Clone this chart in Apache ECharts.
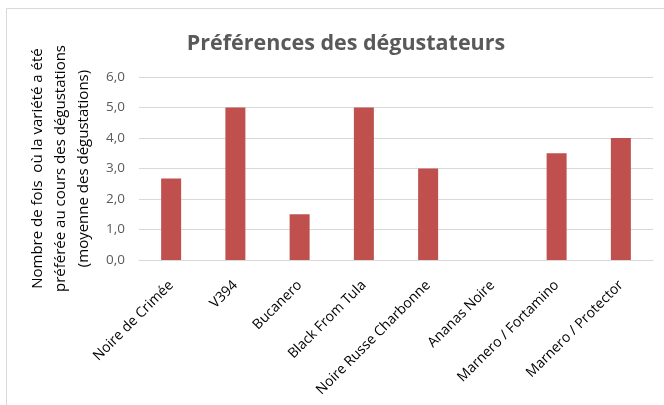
<!DOCTYPE html>
<html>
<head>
<meta charset="utf-8">
<script src="https://cdn.jsdelivr.net/npm/echarts@6/dist/echarts.min.js"></script>
<style>
  html, body { margin: 0; padding: 0; background: #fff; }
  #chart { width: 664px; height: 405px; }
</style>
</head>
<body>
<div id="chart"></div>
<script>
// catégories (variétés)
var varietes = ["Noire de Crimée", "V394", "Bucanero", "Black From Tula", "Noire Russe Charbonne", "Ananas Noire", "Marnero / Fortamino", "Marnero / Protector"];
// moyenne des dégustations
var preferences = [2.67, 5, 1.5, 5, 3, 0, 3.5, 4];
var titre = "Préférences des dégustateurs";
var titreAxeY = "Nombre de fois  où la variété a été\npréférée au cours des dégustations\n(moyenne des dégustations)";

var myChart = echarts.init(document.getElementById("chart"));
myChart.setOption({
  animation: false,
  textStyle: { fontFamily: "Open Sans" },
  title: {
    text: titre,
    left: 341,
    top: 28,
    textAlign: "center",
    textStyle: { fontSize: 21.5, fontWeight: "bold", color: "#595959", fontFamily: "Open Sans" }
  },
  // cadre du graphique
  graphic: [{
    type: "rect",
    shape: { x: 6.5, y: 8.5, width: 700, height: 450 },
    style: { fill: null, stroke: "#d9d9d9", lineWidth: 1 },
    silent: true
  }],
  grid: { left: 139, right: 11, top: 77, bottom: 145 },
  xAxis: {
    type: "category",
    data: varietes,
    axisLine: { lineStyle: { color: "#d9d9d9" } },
    axisTick: { show: false },
    axisLabel: {
      rotate: 45,
      interval: 0,
      margin: 23,
      color: "#000",
      fontSize: 14,
      fontFamily: "Open Sans"
    }
  },
  yAxis: {
    type: "value",
    min: 0,
    max: 6,
    interval: 1,
    name: titreAxeY,
    nameLocation: "middle",
    nameGap: 35,
    nameTextStyle: { color: "#000", fontSize: 15, lineHeight: 23, fontFamily: "Open Sans" },
    axisLine: { show: false },
    axisTick: { show: false },
    splitLine: { lineStyle: { color: "#d9d9d9" } },
    axisLabel: {
      color: "#595959",
      fontSize: 13.5,
      margin: 14,
      fontFamily: "Open Sans",
      formatter: function (v) { return v.toFixed(1).replace(".", ","); }
    }
  },
  series: [{
    type: "bar",
    data: preferences,
    barWidth: 20,
    itemStyle: { color: "#C0504D" }
  }]
});
</script>
</body>
</html>
